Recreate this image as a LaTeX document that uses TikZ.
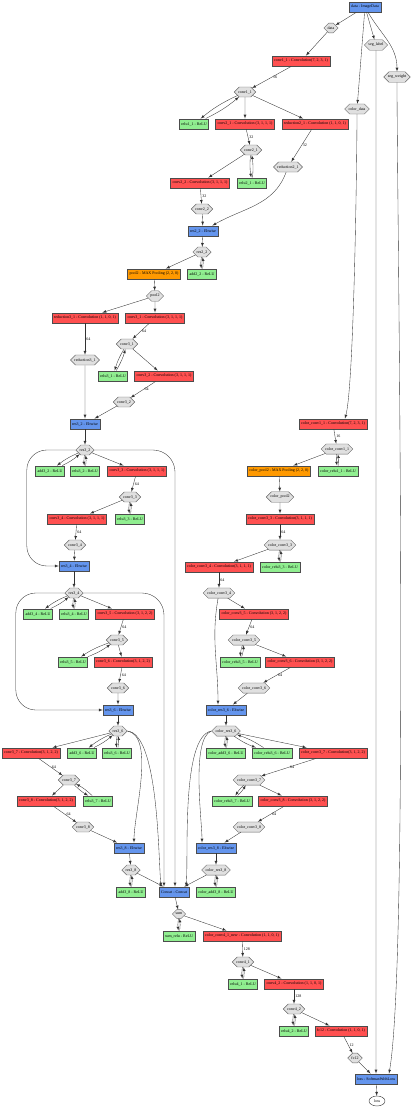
\documentclass[tikz,border=0pt]{standalone}
\usepackage{fontspec}
\setmainfont{Liberation Serif}
\usetikzlibrary{arrows}
\usetikzlibrary{shapes.misc}
\usetikzlibrary{shapes.geometric}
\definecolor{convred}{HTML}{FF5050}
\definecolor{poolorange}{HTML}{FF9900}
\definecolor{relugreen}{HTML}{90EE90}
\definecolor{blobgray}{HTML}{E0E0E0}
\definecolor{eltblue}{HTML}{6495ED}
\tikzset{
      layer/.style={rectangle, draw=black!70, line width=0.4pt, inner xsep=2pt, inner ysep=0pt,
            minimum height=10.5pt, font=\fontsize{4}{4.4}\selectfont},
      conv/.style={layer, fill=convred},
      pool/.style={layer, fill=poolorange},
      relu/.style={layer, fill=relugreen},
      elt/.style={layer, fill=eltblue},
      blob/.style={chamfered rectangle, chamfered rectangle xsep=4.5pt, chamfered rectangle ysep=2.6pt,
            draw=black!60, line width=0.4pt, fill=blobgray, inner xsep=1.5pt, inner ysep=0.8pt,
            font=\fontsize{4}{4.4}\selectfont},
      flow/.style={draw=black!80, line width=0.35pt, -latex},
      inplace/.style={flow, bend right=7},
      num/.style={font=\fontsize{4}{4.4}\selectfont, inner sep=1.2pt},
}

\begin{document}
\begin{tikzpicture}[x=1pt, y=-1pt]
        \useasboundingbox (0,0) rectangle (415,1108);

        % Draw the input layer and its blobs
        \node[elt] (dataL) at (365,7) {data - ImageData};
        \node[blob] (dataB) at (331,28) {data};
        \node[blob] (seglabel) at (376,45) {seg\_label};
        \node[blob] (segweight) at (397,77) {seg\_weight};
        \node[blob] (colordata) at (357,109) {color\_data};

        % Draw the main branch
        \node[conv] (conv11L) at (301,61) {conv1\_1 - Convolution(7, 2, 3, 1)};
        \node[blob] (conv11B) at (245,92) {conv1\_1};
        \node[relu] (relu11) at (194,124) {relu1\_1 - ReLU};
        \node[conv] (conv21L) at (245,124) {conv2\_1 - Convolution (3, 1, 1, 1)};
        \node[conv] (red21L) at (315,124) {reduction2\_1 - Convolution (1, 1, 0, 1)};
        \node[blob] (conv21B) at (251,150) {conv2\_1};
        \node[blob] (red21B) at (288,167) {reduction2\_1};
        \node[conv] (conv22L) at (200,183) {conv2\_2 - Convolution (3, 1, 1, 1)};
        \node[relu] (relu21) at (252,183) {relu2\_1 - ReLU};
        \node[blob] (conv22B) at (202,209) {conv2\_2};
        \node[elt] (res22L) at (203,231) {res2\_2 - Eltwise};
        \node[blob] (res22B) at (202,252) {res2\_2};
        \node[pool] (pool2L) at (154,274) {pool2 - MAX Pooling (2, 2, 0)};
        \node[relu] (add22) at (202,274) {add2\_2 - ReLU};
        \node[blob] (pool2B) at (155,296) {pool2};
        \node[conv] (red31L) at (85,318) {reduction3\_1 - Convolution (1, 1, 0, 1)};
        \node[conv] (conv31L) at (155,318) {conv3\_1 - Convolution (3, 1, 1, 1)};
        \node[blob] (conv31B) at (127,344) {conv3\_1};
        \node[blob] (red31B) at (85,360) {reduction3\_1};
        \node[relu] (relu31) at (113,376) {relu3\_1 - ReLU};
        \node[conv] (conv32L) at (164,376) {conv3\_2 - Convolution (3, 1, 1, 1)};
        \node[blob] (conv32B) at (124,402) {conv3\_2};
        \node[elt] (res32L) at (85,424) {res3\_2 - Eltwise};
        \node[blob] (res32B) at (85,450) {res3\_2};
        \node[relu] (add32) at (50,471) {add3\_2 - ReLU};
        \node[relu] (relu32) at (85,471) {relu3\_2 - ReLU};
        \node[conv] (conv33L) at (137,471) {conv3\_3 - Convolution (3, 1, 1, 1)};
        \node[blob] (conv33B) at (130,497) {conv3\_3};
        \node[conv] (conv34L) at (77,519) {conv3\_4 - Convolution (3, 1, 1, 1)};
        \node[relu] (relu33) at (130,519) {relu3\_3 - ReLU};
        \node[blob] (conv34B) at (75,545) {conv3\_4};
        \node[elt] (res34L) at (74,566) {res3\_4 - Eltwise};
        \node[blob] (res34B) at (74,593) {res3\_4};
        \node[relu] (add34) at (38,614) {add3\_4 - ReLU};
        \node[relu] (relu34) at (74,614) {relu3\_4 - ReLU};
        \node[conv] (conv35L) at (125,614) {conv3\_5 - Convolution (3, 1, 2, 2)};
        \node[blob] (conv35B) at (117,640) {conv3\_5};
        \node[relu] (relu35) at (73,662) {relu3\_5 - ReLU};
        \node[conv] (conv36L) at (123,662) {conv3\_6 - Convolution(3, 1, 2, 2)};
        \node[blob] (conv36B) at (118,688) {conv3\_6};
        \node[elt] (res36L) at (118,710) {res3\_6 - Eltwise};
        \node[blob] (res36B) at (118,731) {res3\_6};
        \node[conv] (conv37L) at (31,753) {conv3\_7 - Convolution(3, 1, 2, 2)};
        \node[relu] (add36) at (82,753) {add3\_6 - ReLU};
        \node[relu] (relu36) at (117,753) {relu3\_6 - ReLU};
        \node[blob] (conv37B) at (69,780) {conv3\_7};
        \node[conv] (conv38L) at (46,801) {conv3\_8 - Convolution(3, 1, 2, 2)};
        \node[relu] (relu37) at (98,801) {relu3\_7 - ReLU};
        \node[blob] (conv38B) at (83,827) {conv3\_8};
        \node[elt] (res38L) at (129,848) {res3\_8 - Eltwise};
        \node[blob] (res38B) at (131,870) {res3\_8};
        \node[relu] (add38) at (131,892) {add3\_8 - ReLU};

        % Draw the color branch
        \node[conv] (cconv11L) at (333,424) {color\_conv1\_1 - Convolution(7, 2, 3, 1)};
        \node[blob] (cconv11B) at (337,449) {color\_conv1\_1};
        \node[pool] (cpool2L) at (279,471) {color\_pool2 - MAX Pooling (2, 2, 0)};
        \node[relu] (crelu11) at (338,471) {color\_relu1\_1 - ReLU};
        \node[blob] (cpool2B) at (280,497) {color\_pool2};
        \node[conv] (cconv33L) at (280,519) {color\_conv3\_3 - Convolution(3, 1, 1, 1)};
        \node[blob] (cconv33B) at (280,545) {color\_conv3\_3};
        \node[conv] (cconv34L) at (219,567) {color\_conv3\_4 - Convolution(3, 1, 1, 1)};
        \node[relu] (crelu33) at (280,567) {color\_relu3\_3 - ReLU};
        \node[blob] (cconv34B) at (219,593) {color\_conv3\_4};
        \node[conv] (cconv35L) at (254,614) {color\_conv3\_5 - Convolution (3, 1, 2, 2)};
        \node[blob] (cconv35B) at (244,640) {color\_conv3\_5};
        \node[relu] (crelu35) at (240,662) {color\_relu3\_5 - ReLU};
        \node[conv] (cconv36L) at (300,662) {color\_conv3\_6 - Convolution (3, 1, 2, 2)};
        \node[blob] (cconv36B) at (254,688) {color\_conv3\_6};
        \node[elt] (cres36L) at (226,710) {color\_res3\_6 - Eltwise};
        \node[blob] (cres36B) at (226,731) {color\_res3\_6};
        \node[relu] (cadd36) at (226,753) {color\_add3\_6 - ReLU};
        \node[relu] (crelu36) at (272,753) {color\_relu3\_6 - ReLU};
        \node[conv] (cconv37L) at (333,753) {color\_conv3\_7 - Convolution(3, 1, 2, 2)};
        \node[blob] (cconv37B) at (249,780) {color\_conv3\_7};
        \node[relu] (crelu37) at (232,801) {color\_relu3\_7 - ReLU};
        \node[conv] (cconv38L) at (293,801) {color\_conv3\_8 - Convolution (3, 1, 2, 2)};
        \node[blob] (cconv38B) at (249,827) {color\_conv3\_8};
        \node[elt] (cres38L) at (216,848) {color\_res3\_8 - Eltwise};
        \node[blob] (cres38B) at (216,870) {color\_res3\_8};
        \node[relu] (cadd38) at (216,892) {color\_add3\_8 - ReLU};

        % Draw the head
        \node[elt] (concatL) at (174,892) {Concat - Concat};
        \node[blob] (sumB) at (179,914) {sum};
        \node[relu] (sumrelu) at (179,936) {sum\_relu - ReLU};
        \node[conv] (cconv41L) at (242,936) {color\_conv4\_1\_new - Convolution (1, 1, 0, 1)};
        \node[blob] (conv41B) at (243,962) {conv4\_1};
        \node[relu] (relu41) at (243,984) {relu4\_1 - ReLU};
        \node[conv] (conv42L) at (294,984) {conv4\_2 - Convolution (1, 1, 0, 1)};
        \node[blob] (conv42B) at (294,1009) {conv4\_2};
        \node[relu] (relu42) at (294,1031) {relu4\_2 - ReLU};
        \node[conv] (fc12L) at (341,1031) {fc12 - Convolution (1, 1, 0, 1)};
        \node[blob] (fc12B) at (355,1058) {fc12};
        \node[elt] (lossL) at (376,1079) {loss - SoftmaxWithLoss};
        \node[ellipse, draw=black!80, line width=0.4pt, inner sep=0.8pt, minimum width=16pt, minimum height=10pt,
              font=\fontsize{4}{4.4}\selectfont] (lossB) at (377,1101) {loss};

        % Connect the main branch
        \draw[flow] (dataL) -- (dataB);
        \draw[flow] (dataL) -- (seglabel);
        \draw[flow] (dataL) to[out=-60,in=90] (segweight);
        \draw[flow] (dataL) -- (colordata);
        \draw[flow] (dataB) -- (conv11L);
        \draw[flow] (conv11L) -- node[num,right] {16} (conv11B);
        \draw[inplace] (conv11B) to (relu11);
        \draw[inplace] (relu11) to (conv11B);
        \draw[flow] (conv11B) -- (conv21L);
        \draw[flow] (conv11B) -- (red21L);
        \draw[flow] (conv21L) -- node[num,right] {32} (conv21B);
        \draw[flow] (red21L) -- node[num,right] {32} (red21B);
        \draw[flow] (conv21B) -- (conv22L);
        \draw[inplace] (conv21B) to (relu21);
        \draw[inplace] (relu21) to (conv21B);
        \draw[flow] (conv22L) -- node[num,right] {32} (conv22B);
        \draw[flow] (conv22B) -- (res22L);
        \draw[flow] (red21B) to[out=-110,in=30] (res22L);
        \draw[flow] (res22L) -- (res22B);
        \draw[flow] (res22B) -- (pool2L);
        \draw[inplace] (res22B) to (add22);
        \draw[inplace] (add22) to (res22B);
        \draw[flow] (pool2L) -- (pool2B);
        \draw[flow] (pool2B) -- (red31L);
        \draw[flow] (pool2B) -- (conv31L);
        \draw[flow] (red31L) -- node[num,right] {64} (red31B);
        \draw[flow] (conv31L) -- node[num,right] {64} (conv31B);
        \draw[inplace] (conv31B) to (relu31);
        \draw[inplace] (relu31) to (conv31B);
        \draw[flow] (conv31B) -- (conv32L);
        \draw[flow] (conv32L) -- node[num,right] {64} (conv32B);
        \draw[flow] (conv32B) -- (res32L);
        \draw[flow] (red31B) -- (res32L);
        \draw[flow] (res32L) -- (res32B);
        \draw[inplace] (res32B) to (add32);
        \draw[inplace] (add32) to (res32B);
        \draw[inplace] (res32B) to (relu32);
        \draw[inplace] (relu32) to (res32B);
        \draw[flow] (res32B) -- (conv33L);
        \draw[flow, rounded corners=20pt] (res32B.west) -| ([xshift=-32pt]res34L.west) -- (res34L.west);
        \draw[flow, rounded corners=22pt] (res32B.east) -| ([xshift=1pt]concatL.north);
        \draw[flow] (conv33L) -- node[num,right] {64} (conv33B);
        \draw[flow] (conv33B) -- (conv34L);
        \draw[inplace] (conv33B) to (relu33);
        \draw[inplace] (relu33) to (conv33B);
        \draw[flow] (conv34L) -- node[num,right] {64} (conv34B);
        \draw[flow] (conv34B) -- (res34L);
        \draw[flow] (res34L) -- (res34B);
        \draw[inplace] (res34B) to (add34);
        \draw[inplace] (add34) to (res34B);
        \draw[inplace] (res34B) to (relu34);
        \draw[inplace] (relu34) to (res34B);
        \draw[flow] (res34B) -- (conv35L);
        \draw[flow, rounded corners=20pt] (res34B.west) -| ([xshift=-87pt]res36L.west) -- (res36L.west);
        \draw[flow, rounded corners=22pt] (res34B.east) -| ([xshift=-10pt]concatL.north);
        \draw[flow] (conv35L) -- node[num,right] {64} (conv35B);
        \draw[inplace] (conv35B) to (relu35);
        \draw[inplace] (relu35) to (conv35B);
        \draw[flow] (conv35B) -- (conv36L);
        \draw[flow] (conv36L) -- node[num,right] {64} (conv36B);
        \draw[flow] (conv36B) -- (res36L);
        \draw[flow] (res36L) -- (res36B);
        \draw[flow] (res36B) -- (conv37L);
        \draw[inplace] (res36B) to (add36);
        \draw[inplace] (add36) to (res36B);
        \draw[inplace] (res36B) to (relu36);
        \draw[inplace] (relu36) to (res36B);
        \draw[flow] (res36B.east) to[out=-10,in=90,looseness=0.65] ([xshift=5pt]res38L.north);
        \draw[flow] (res36B.east) to[out=-5,in=95,looseness=0.5] ([xshift=-13pt]concatL.north);
        \draw[flow] (conv37L) -- node[num,right] {64} (conv37B);
        \draw[flow] (conv37B) -- (conv38L);
        \draw[inplace] (conv37B) to (relu37);
        \draw[inplace] (relu37) to (conv37B);
        \draw[flow] (conv38L) -- node[num,right] {64} (conv38B);
        \draw[flow] (conv38B) -- (res38L);
        \draw[flow] (res38L) -- (res38B);
        \draw[inplace] (res38B) to (add38);
        \draw[inplace] (add38) to (res38B);
        \draw[flow] (res38B) -- (concatL);

        % Connect the color branch
        \draw[flow] (colordata.south) to[out=-90,in=75,looseness=0.3] ([xshift=12pt]cconv11L.north);
        \draw[flow] (cconv11L) -- node[num,right] {16} (cconv11B);
        \draw[flow] (cconv11B) -- (cpool2L);
        \draw[inplace] (cconv11B) to (crelu11);
        \draw[inplace] (crelu11) to (cconv11B);
        \draw[flow] (cpool2L) -- (cpool2B);
        \draw[flow] (cpool2B) -- (cconv33L);
        \draw[flow] (cconv33L) -- node[num,right] {64} (cconv33B);
        \draw[flow] (cconv33B) -- (cconv34L);
        \draw[inplace] (cconv33B) to (crelu33);
        \draw[inplace] (crelu33) to (cconv33B);
        \draw[flow] (cconv34L) -- node[num,right] {64} (cconv34B);
        \draw[flow] (cconv34B) -- (cconv35L);
        \draw[flow] (cconv34B) to[out=-100,in=90] ([xshift=-8pt]cres36L.north);
        \draw[flow] (cconv35L) -- node[num,right] {64} (cconv35B);
        \draw[inplace] (cconv35B) to (crelu35);
        \draw[inplace] (crelu35) to (cconv35B);
        \draw[flow] (cconv35B) -- (cconv36L);
        \draw[flow] (cconv36L) -- node[num,right] {64} (cconv36B);
        \draw[flow] (cconv36B) -- (cres36L);
        \draw[flow] (cres36L) -- (cres36B);
        \draw[inplace] (cres36B) to (cadd36);
        \draw[inplace] (cadd36) to (cres36B);
        \draw[inplace] (cres36B) to (crelu36);
        \draw[inplace] (crelu36) to (cres36B);
        \draw[flow] (cres36B) -- (cconv37L);
        \draw[flow] (cres36B.west) to[out=200,in=90,looseness=0.5] ([xshift=-14pt]cres38L.north);
        \draw[flow] (cres36B.west) to[out=190,in=85,looseness=0.5] ([xshift=12pt]concatL.north);
        \draw[flow] (cconv37L) -- node[num,right] {64} (cconv37B);
        \draw[inplace] (cconv37B) to (crelu37);
        \draw[inplace] (crelu37) to (cconv37B);
        \draw[flow] (cconv37B) -- (cconv38L);
        \draw[flow] (cconv38L) -- node[num,right] {64} (cconv38B);
        \draw[flow] (cconv38B) -- (cres38L);
        \draw[flow] (cres38L) -- (cres38B);
        \draw[inplace] (cres38B) to (cadd38);
        \draw[inplace] (cadd38) to (cres38B);
        \draw[flow] (cres38B) -- (concatL);

        % Connect the head
        \draw[flow] (concatL) -- (sumB);
        \draw[inplace] (sumB) to (sumrelu);
        \draw[inplace] (sumrelu) to (sumB);
        \draw[flow] (sumB) -- (cconv41L);
        \draw[flow] (cconv41L) -- node[num,right] {128} (conv41B);
        \draw[inplace] (conv41B) to (relu41);
        \draw[inplace] (relu41) to (conv41B);
        \draw[flow] (conv41B) -- (conv42L);
        \draw[flow] (conv42L) -- node[num,right] {128} (conv42B);
        \draw[inplace] (conv42B) to (relu42);
        \draw[inplace] (relu42) to (conv42B);
        \draw[flow] (conv42B) -- (fc12L);
        \draw[flow] (fc12L) -- node[num,right] {12} (fc12B);
        \draw[flow] (fc12B) -- (lossL);
        \draw[flow] (seglabel) -- (lossL);
        \draw[flow] (segweight.south) to[out=-90,in=80,looseness=0.3] ([xshift=13pt]lossL.north);
        \draw[flow] (lossL) -- (lossB);

    \end{tikzpicture}
\end{document}
